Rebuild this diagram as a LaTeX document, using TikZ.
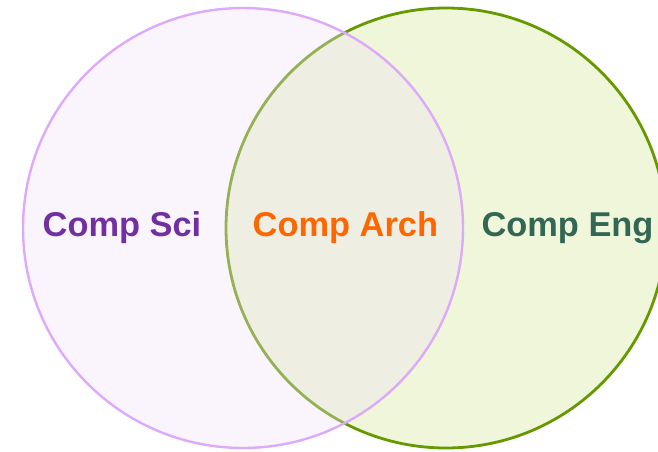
\documentclass[tikz,border=0pt]{standalone}
\usepackage{fontspec}
\setmainfont{Liberation Sans}
\usetikzlibrary{positioning}
\definecolor{sciline}{RGB}{221,170,250}
\definecolor{scifill}{RGB}{240,224,245}
\definecolor{engline}{RGB}{102,153,0}
\definecolor{engfill}{RGB}{239,246,218}
\definecolor{scitext}{RGB}{112,48,160}
\definecolor{archtext}{RGB}{255,102,0}
\definecolor{engtext}{RGB}{51,102,85}

\begin{document}
\begin{tikzpicture}[x=1pt, y=1pt,
  setnode/.style={circle, minimum size=440pt, inner sep=0pt},
  label/.style={inner sep=0pt, font=\fontsize{34.4}{35}\selectfont\bfseries}]

  \useasboundingbox (0,0) rectangle (658,451);

  \node[setnode, draw=engline, line width=2.8pt, fill=engfill] (eng) at (446,223) {};
  \node[setnode, draw=sciline, line width=2.4pt, fill=scifill, fill opacity=0.35] (sci) at (243,223) {};

  \node[label, text=scitext] (scilabel) at (122,223) {Comp Sci};
  \node[label, text=archtext] (archlabel) [right = 51pt of scilabel] {Comp Arch};
  \node[label, text=engtext] (englabel) [right = 43pt of archlabel] {Comp Eng};
\end{tikzpicture}
\end{document}
